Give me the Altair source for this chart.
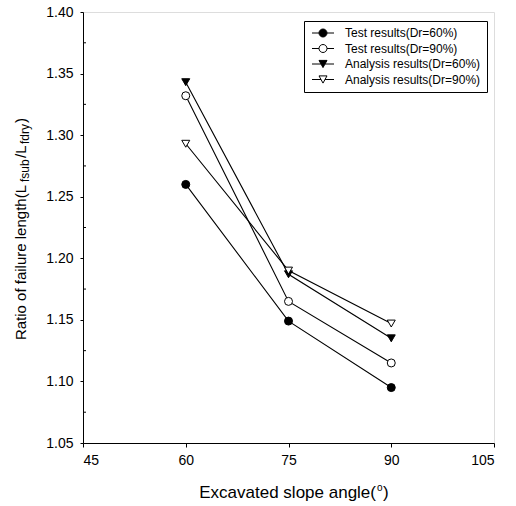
import altair as alt
import pandas as pd

angles = [60, 75, 90]
test60 = [1.260, 1.149, 1.095]
test90 = [1.332, 1.165, 1.115]
ana60 = [1.343, 1.187, 1.135]
ana90 = [1.293, 1.190, 1.147]
names = ["Test results(Dr=60%)", "Test results(Dr=90%)",
         "Analysis results(Dr=60%)", "Analysis results(Dr=90%)"]
x_ticks = [45, 60, 75, 90, 105]
y_ticks = [1.05, 1.10, 1.15, 1.20, 1.25, 1.30, 1.35, 1.40]
y_minor = [1.075, 1.125, 1.175, 1.225, 1.275, 1.325, 1.375]

rows = []
for name, vals in zip(names, [test60, test90, ana60, ana90]):
    for a, v in zip(angles, vals):
        rows.append({"series": name, "angle": a, "ratio": v})
df = pd.DataFrame(rows)
minor_df = pd.DataFrame({"ratio": y_minor, "angle": [45] * len(y_minor)})

FONT = "Liberation Sans"
W, H = 411, 431

xs = alt.Scale(domain=[45, 105], nice=False, zero=False)
ys = alt.Scale(domain=[1.05, 1.40], nice=False, zero=False)

xaxis = alt.Axis(values=x_ticks, title=None, grid=False, tickSize=4, labelPadding=6,
                 labelFont=FONT, labelFontSize=14, labelColor="black",
                 domainColor="black", tickColor="black")
yaxis = alt.Axis(values=y_ticks, format=".2f", title=None, grid=False, tickSize=3,
                 labelPadding=7, labelFont=FONT, labelFontSize=14, labelColor="black",
                 domainColor="black", tickColor="black")

X = alt.X("angle:Q", scale=xs, axis=xaxis)
Y = alt.Y("ratio:Q", scale=ys, axis=yaxis)

base = alt.Chart(df).encode(x=X, y=Y)
lines = base.mark_line(color="black", strokeWidth=1.1).encode(detail="series:N")
points = base.mark_point(filled=True, size=64, stroke="black", strokeWidth=1, opacity=1).encode(
    shape=alt.Shape("series:N", scale=alt.Scale(domain=names,
                    range=["circle", "circle", "triangle-down", "triangle-down"]), legend=None),
    fill=alt.Fill("series:N", scale=alt.Scale(domain=names,
                  range=["black", "white", "black", "white"]), legend=None),
)

p_circle = "M-2.75,0H-1M1,0H2.75M-1,0A1,1,0,1,0,1,0A1,1,0,1,0,-1,0Z"
p_tri = "M-2.75,0H-0.5M0.5,0H2.75M-1,-0.9L1,-0.9L0,0.9Z"
leg = alt.Legend(title=None, orient="none", legendX=221, legendY=9,
                 strokeColor="black", fillColor="white", padding=6,
                 symbolOffset=7, labelOffset=16, symbolSize=64,
                 symbolStrokeColor="black", symbolStrokeWidth=1, symbolOpacity=1,
                 labelFont=FONT, labelFontSize=12, labelColor="black", rowPadding=3.5,
                 labelLimit=300)
legend_layer = alt.Chart(df).mark_point(opacity=0, filled=True, size=64,
                                        strokeWidth=1).encode(
    x=X, y=Y,
    shape=alt.Shape("series:N", scale=alt.Scale(domain=names,
                    range=[p_circle, p_circle, p_tri, p_tri]), legend=leg),
    fill=alt.Fill("series:N", scale=alt.Scale(domain=names,
                  range=["black", "white", "black", "white"]), legend=leg),
    stroke=alt.Stroke("series:N", scale=alt.Scale(domain=names,
                      range=["black", "black", "black", "black"]), legend=leg),
)

minor = alt.Chart(minor_df).mark_rule(color="black", strokeWidth=1).encode(
    y=Y, x=alt.value(0), x2=alt.value(3))

def txt(t, x, y, size=16, align="left", angle=0):
    return alt.Chart(pd.DataFrame({"t": [t]})).mark_text(
        font=FONT, fontSize=size, align=align, baseline="alphabetic", angle=angle,
        color="black").encode(text="t:N", x=alt.value(x), y=alt.value(y))

# x title
xt_end = 293
xtitle = [
    txt("Excavated slope angle(", xt_end, 486, 17, align="right"),
    txt("o", xt_end + 1, 479, 10),
    txt(")", xt_end + 7, 486, 17),
]
# y title (rotated), y values relative to plot top (abs y - 12)
yx = -57
ytitle = [
    txt("Ratio of failure length(L", yx, 173, 15, align="right", angle=270),
    txt("fsub", yx + 3, 170, 12, align="left", angle=270),
    txt("/L", yx, 146, 15, align="left", angle=270),
    txt("fdry", yx + 3, 132, 12, align="left", angle=270),
    txt(")", yx, 111, 15, align="left", angle=270),
]

chart = alt.layer(lines, points, legend_layer, minor, *xtitle, *ytitle).resolve_scale(
    shape="independent", fill="independent", stroke="independent"
).properties(
    width=W, height=H,
    autosize=alt.AutoSizeParams(type="none"),
    padding={"left": 83, "top": 12, "right": 22, "bottom": 63},
).configure_view(stroke="black", strokeWidth=1).configure(background="white")

chart.save("out.html", embed_options={"renderer": "svg", "actions": False})
